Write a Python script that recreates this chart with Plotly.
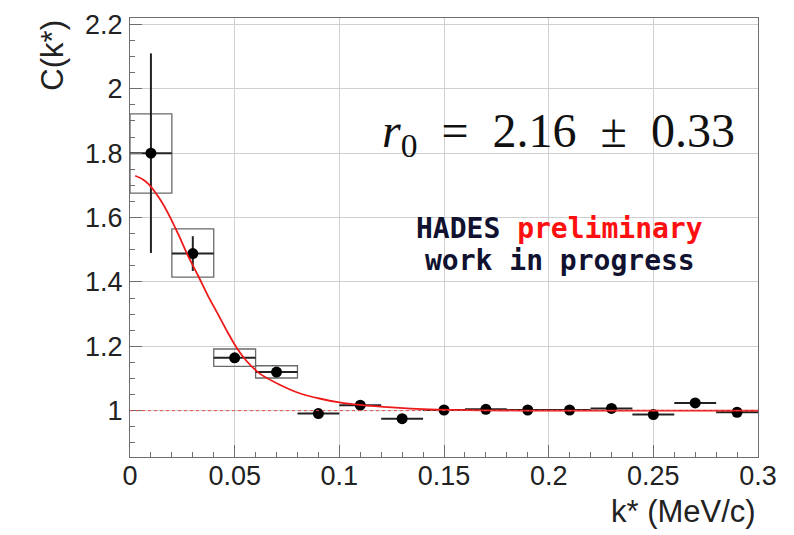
import plotly.graph_objects as go

# ---------------- data ----------------
k_centers = [0.01, 0.03, 0.05, 0.07, 0.09, 0.11, 0.13, 0.15, 0.17, 0.19,
             0.21, 0.23, 0.25, 0.27, 0.29]
C_vals = [1.800, 1.488, 1.164, 1.120, 0.991, 1.017, 0.975, 1.002, 1.004,
          1.002, 1.002, 1.007, 0.988, 1.024, 0.995]
stat_err = [0.31, 0.054, 0.012, 0.010, 0.008, 0.008, 0.008, 0.007, 0.007,
            0.007, 0.007, 0.007, 0.007, 0.007, 0.007]
bin_half = [0.01] * len(k_centers)

sys_k = [0.01, 0.03, 0.05, 0.07]
sys_C = [1.799, 1.490, 1.1645, 1.1205]
sys_err = [0.123, 0.075, 0.027, 0.019]
sys_width = [0.02, 0.02, 0.02, 0.02]

fit_k = [0.0025, 0.006, 0.009, 0.0145, 0.019, 0.023, 0.028, 0.0325, 0.037, 0.042,
         0.0465, 0.051, 0.056, 0.062, 0.072, 0.081, 0.091, 0.100, 0.110,
         0.125, 0.143, 0.170, 0.200, 0.250, 0.300]
fit_C = [1.730, 1.719, 1.703, 1.655, 1.603, 1.549, 1.477, 1.420, 1.360, 1.300,
         1.245, 1.195, 1.152, 1.115, 1.079, 1.054, 1.037, 1.026, 1.018,
         1.010, 1.004, 1.001, 1.000, 1.000, 1.000]

BASELINE = 1.0

x_tickvals = [0, 0.05, 0.1, 0.15, 0.2, 0.25, 0.3]
x_ticktext = ["0", "0.05", "0.1", "0.15", "0.2", "0.25", "0.3"]
y_tickvals = [1.0, 1.2, 1.4, 1.6, 1.8, 2.0, 2.2]
y_ticktext = ["1", "1.2", "1.4", "1.6", "1.8", "2", "2.2"]

# ---------------- figure ----------------
fig = go.Figure()

# systematic boxes
fig.add_trace(go.Bar(
    x=sys_k,
    y=[2 * e for e in sys_err],
    base=[c - e for c, e in zip(sys_C, sys_err)],
    width=sys_width,
    marker=dict(color="rgba(0,0,0,0)", line=dict(color="#6a6a6a", width=1.3)),
    showlegend=False, hoverinfo="skip",
))

# data points with stat errors and bin widths
fig.add_trace(go.Scatter(
    x=k_centers, y=C_vals, mode="markers",
    marker=dict(color="black", size=11),
    error_y=dict(type="data", array=stat_err, color="#222", thickness=2, width=0),
    error_x=dict(type="data", array=bin_half, color="#222", thickness=2, width=0),
    showlegend=False,
))

# fit curve
fig.add_trace(go.Scatter(
    x=fit_k, y=fit_C, mode="lines",
    line=dict(color="#ee1a1a", width=1.8, shape="spline", smoothing=0.8),
    showlegend=False,
))

fig.add_hline(y=BASELINE, line=dict(color="#e05050", width=1, dash="3px,3px"))

axis_common = dict(
    showgrid=True, gridcolor="#d0d0d0", gridwidth=1,
    showline=True, linecolor="#6e6e6e", linewidth=1.3, mirror=True,
    ticks="inside", ticklen=12, tickcolor="#6e6e6e", tickwidth=1,
    tickfont=dict(family="Liberation Sans, Arial, sans-serif", size=27, color="#222"),
    zeroline=False,
)

fig.update_xaxes(
    range=[0, 0.3], tickvals=x_tickvals, ticktext=x_ticktext,
    minor=dict(dtick=0.01, tick0=0, ticks="inside", ticklen=5,
               tickcolor="#6e6e6e", showgrid=False),
    ticklabelstandoff=-6,
    **axis_common,
)
fig.update_yaxes(
    range=[0.856, 2.22], tickvals=y_tickvals, ticktext=y_ticktext,
    minor=dict(dtick=0.05, tick0=0, ticks="inside", ticklen=5,
               tickcolor="#6e6e6e", showgrid=False),
    ticklabelstandoff=1,
    **axis_common,
)

title_font = dict(family="Liberation Sans, Arial, sans-serif", size=31, color="#222")
mono = "DejaVu Sans Mono, Liberation Mono, monospace"

fig.update_layout(
    width=794, height=535,
    margin=dict(l=130, r=36, t=10, b=78),
    paper_bgcolor="white", plot_bgcolor="white",
    barmode="overlay",
    annotations=[
        dict(text="k* (MeV/c)", xref="paper", yref="paper", x=1.0, y=-0.125,
             xanchor="right", yanchor="middle", showarrow=False, font=title_font),
        dict(text="C(k*)", xref="paper", yref="paper", x=-0.124, y=1.0,
             xanchor="center", yanchor="top", textangle=-90, showarrow=False,
             font=title_font),
        dict(text="<i>r</i><sub>0</sub>  =  2.16  ±  0.33", xref="paper", yref="paper",
             x=0.398, y=0.735, xanchor="left", yanchor="middle", showarrow=False,
             font=dict(family="Liberation Serif, Times New Roman, serif", size=48,
                       color="#111")),
        dict(text="<b>HADES</b> <b><span style='color:#ff1010'>preliminary</span></b>",
             xref="paper", yref="paper", x=0.684, y=0.52,
             xanchor="center", yanchor="middle", showarrow=False,
             font=dict(family=mono, size=28, color="#111130")),
        dict(text="<b>work in progress</b>",
             xref="paper", yref="paper", x=0.684, y=0.448,
             xanchor="center", yanchor="middle", showarrow=False,
             font=dict(family=mono, size=28, color="#111130")),
    ],
)

fig.write_html("out.html")
